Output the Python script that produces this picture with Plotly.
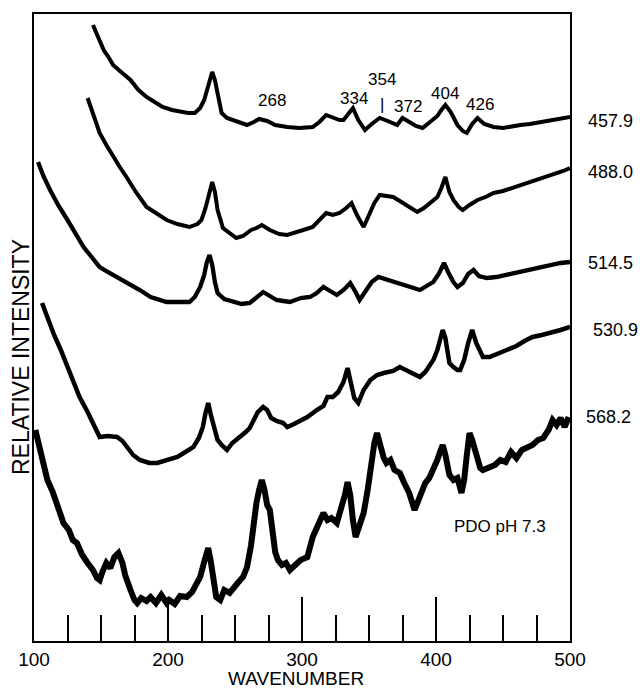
import plotly.graph_objects as go

# ---- data (wavenumber, relative intensity) ----
w_4579 = [144,148,152,156,159,165,172,178,184,190,196,203,209,215,220,224,227,230,233,235,237,240,244,249,254,259,264,268,274,280,289,298,308,313,318,323,328,331,335,338,342,347,352,358,364,371,375,380,385,390,396,401,404,407,411,416,420,423,427,431,436,443,450,457,463,470,478,487,494,500]
i_4579 = [616,603,591,583,576,569,561,551,544,539,534,531,529,528,528,533,541,554,569,561,549,528,523,521,518,516,519,522,520,516,514,513,514,519,526,524,521,521,528,533,521,511,517,523,520,516,523,519,515,513,519,525,531,536,529,516,510,508,517,523,517,514,513,515,516,517,519,521,522,524]

w_4880 = [140,144,149,154,159,164,169,176,184,191,199,207,216,222,225,228,230,233,235,237,241,246,251,256,262,266,270,276,283,289,295,301,308,313,318,323,328,333,337,341,346,350,354,358,363,368,373,378,382,386,391,396,401,404,407,410,413,417,420,425,431,437,443,450,457,463,470,476,483,490,495,500]
i_4880 = [543,526,508,496,484,474,464,449,434,428,421,417,414,417,421,433,444,459,449,431,413,408,403,405,411,413,416,411,407,406,408,411,414,421,428,426,428,433,438,426,414,426,438,446,445,444,440,436,432,429,433,438,444,453,464,449,441,434,431,436,441,444,448,450,453,456,459,461,464,468,470,473]

w_5145 = [103,107,112,118,125,131,137,143,149,155,162,170,179,187,193,199,205,211,216,220,224,227,229,231,233,235,237,242,249,255,261,266,271,276,281,286,291,299,306,311,316,321,326,331,336,340,343,348,352,357,364,371,380,388,393,398,402,406,409,413,416,420,424,428,432,438,445,452,460,468,477,485,493,500]
i_5145 = [479,465,451,436,421,407,394,384,374,369,364,358,351,344,341,339,339,339,339,344,354,366,379,386,376,359,348,342,339,337,338,343,349,345,341,340,339,343,344,348,354,350,346,351,358,349,341,351,359,364,361,359,355,351,355,359,367,378,369,359,354,358,367,371,365,363,364,366,368,371,373,376,378,379]

w_5309 = [106,110,115,120,125,130,134,140,145,149,155,162,166,169,174,179,186,192,199,207,213,219,223,226,228,230,232,234,237,240,244,248,251,254,258,261,264,267,271,274,277,281,286,289,294,299,304,311,316,319,323,327,331,334,336,339,342,346,351,356,361,368,373,377,383,388,392,395,398,401,403,405,407,410,413,416,418,421,424,427,430,433,435,440,446,453,460,466,472,479,486,493,500]
i_5309 = [338,323,306,291,274,256,244,229,216,204,205,204,200,194,186,181,178,178,181,184,189,194,203,214,228,238,226,214,201,196,191,198,201,204,209,213,221,229,234,231,223,220,218,214,217,221,224,231,235,244,244,249,259,273,259,243,238,251,261,266,268,270,274,271,267,264,269,276,281,291,303,311,303,278,274,271,271,281,298,311,298,288,284,284,287,291,295,300,304,306,308,311,314]

w_5682 = [101,104,107,110,114,119,122,126,129,132,136,140,144,147,149,151,154,157,160,163,166,168,170,172,175,177,180,184,187,191,195,199,201,205,209,214,218,221,224,227,229,230,232,234,236,239,242,246,249,252,256,259,262,264,266,268,270,272,274,276,278,280,282,285,288,291,295,299,304,308,312,316,319,322,326,329,332,334,336,338,340,343,346,349,352,354,356,358,361,363,366,369,373,376,380,384,387,390,392,395,398,401,403,405,407,410,413,416,419,421,423,425,427,430,433,435,440,444,448,452,456,460,464,468,472,476,480,484,487,490,493,496,499]
i_5682 = [211,193,179,161,149,128,118,111,101,98,86,78,71,63,61,69,78,73,84,88,78,66,56,51,41,38,43,40,44,38,46,38,41,37,45,44,49,56,64,79,89,93,79,56,44,41,51,48,54,58,64,74,96,121,138,151,161,151,136,131,111,89,81,76,78,71,76,81,84,104,116,128,121,123,118,131,146,159,146,121,104,116,128,151,181,198,208,196,183,178,181,171,168,159,148,131,141,151,158,163,171,181,189,196,186,166,161,163,148,161,186,208,201,186,173,171,174,176,181,179,189,183,191,194,196,201,203,211,221,216,223,214,224]

series = [
    (w_4579, i_4579, 4.0),
    (w_4880, i_4880, 4.0),
    (w_5145, i_5145, 4.3),
    (w_5309, i_5309, 4.5),
    (w_5682, i_5682, 6.0),
]

excitation_labels = ["457.9", "488.0", "514.5", "530.9", "568.2"]
excitation_y = [520, 469, 378, 311, 224]
excitation_px = [610, 610, 610, 615, 608]

peak_labels = ["268", "334", "354", "|", "372", "404", "426"]
peak_x = [277.6, 338.8, 359.7, 359.7, 379.0, 406.7, 432.8]
peak_y = [541, 543, 562, 537, 535, 548, 537]

tick_vals = [100, 200, 300, 400, 500]
tick_text = ["100", "200", "300", "400", "500"]

fig = go.Figure()
for w, inten, lw in series:
    fig.add_trace(go.Scatter(x=w, y=inten, mode="lines",
                             line=dict(color="#000000", width=lw),
                             hoverinfo="skip", showlegend=False))

L, R, T, B = 34, 70, 14, 50
PW = 640 - L - R
FONT = "Liberation Sans, Arial, sans-serif"

anns = []
for txt, yv, px in zip(excitation_labels, excitation_y, excitation_px):
    anns.append(dict(text=txt, xref="paper", yref="y", x=(px - L) / PW, y=yv,
                     showarrow=False, xanchor="center", yanchor="middle",
                     font=dict(size=18, color="#000", family=FONT)))
for txt, xv, yv in zip(peak_labels, peak_x, peak_y):
    anns.append(dict(text=txt, xref="x", yref="y", x=xv, y=yv, showarrow=False,
                     xanchor="center", yanchor="middle",
                     font=dict(size=17, color="#000", family=FONT)))
anns.append(dict(text="PDO pH 7.3", xref="x", yref="y", x=447.8, y=115, showarrow=False,
                 xanchor="center", yanchor="middle",
                 font=dict(size=17, color="#000", family=FONT)))
anns.append(dict(text="WAVENUMBER", xref="paper", yref="paper", x=(296 - L) / PW, y=(641 - 690) / 627,
                 showarrow=False, xanchor="center", yanchor="bottom", borderpad=0,
                 font=dict(size=19, color="#000", family=FONT)))
anns.append(dict(text="RELATIVE INTENSITY", xref="paper", yref="paper", x=(21 - L) / PW, y=(641 - 357) / 627,
                 showarrow=False, xanchor="center", yanchor="middle", textangle=-90,
                 font=dict(size=23, color="#000", family=FONT)))

fig.update_layout(
    width=640, height=691,
    margin=dict(l=L, r=R, t=T, b=B),
    paper_bgcolor="white", plot_bgcolor="white",
    annotations=anns,
    xaxis=dict(range=[100, 500], showgrid=False, zeroline=False,
               showline=True, linecolor="#000", linewidth=2, mirror=True,
               tickmode="array", tickvals=tick_vals, ticktext=tick_text,
               ticks="inside", ticklen=44, tickwidth=2, tickcolor="#000",
               ticklabelstandoff=0,
               tickfont=dict(size=19, color="#000", family=FONT),
               minor=dict(dtick=25, tick0=100, ticks="inside", ticklen=26, tickwidth=2, tickcolor="#000", showgrid=False)),
    yaxis=dict(range=[0, 627], showgrid=False, zeroline=False, showticklabels=False,
               showline=True, linecolor="#000", linewidth=2, mirror=True, ticks=""),
)

fig.write_html("out.html")
